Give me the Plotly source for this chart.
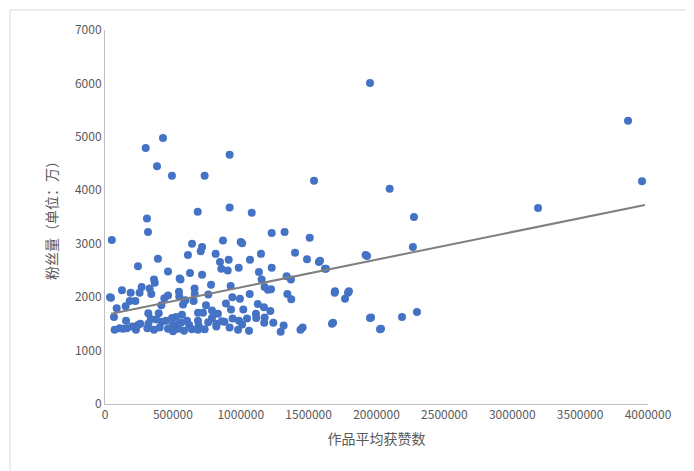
import plotly.graph_objects as go

likes = [50000,37000,300000,427000,383000,493000,918000,734000,1540000,2097000,1952000,3853000,3956000,3190000,2276000,2268000,2298000,2188000,2026000,1952000,1920000,1790000,1694000,1672000,1620000,1576000,
309000,317000,683000,918000,1081000,1228000,1323000,1508000,1930000,390000,243000,641000,715000,705000,611000,815000,869000,1000000,1010000,847000,911000,857000,904000,985000,1068000,1149000,1228000,1134000,1154000,1338000,1370000,1400000,1488000,1584000,1628000,1692000,1797000,1768000,1680000,1960000,2033000,
464000,550000,556000,626000,715000,781000,926000,1066000,1200000,1223000,1176000,1343000,1372000,361000,367000,270000,329000,125000,189000,255000,341000,44000,86000,66000,152000,182000,224000,437000,464000,545000,547000,660000,661000,761000,592000,653000,415000,575000,744000,891000,938000,994000,1125000,1171000,1218000,
319000,396000,523000,567000,685000,722000,788000,832000,928000,1019000,1112000,1176000,155000,243000,337000,378000,494000,528000,604000,685000,788000,940000,987000,1046000,1114000,1173000,1240000,1316000,1456000,1440000,1294000,
71000,108000,133000,162000,228000,312000,361000,403000,464000,501000,538000,582000,640000,685000,734000,820000,918000,980000,1061000,
320000,420000,500000,560000,690000,760000,820000,880000,1010000,200000,260000,450000,620000,860000]
fans = [3070,2000,4790,4980,4450,4270,4665,4270,4180,4030,6010,5300,4170,3670,3500,2940,1720,1630,1400,1610,2790,2080,2110,1500,2530,2660,
3470,3220,3600,3680,3580,3200,3220,3110,2770,2720,2580,3000,2940,2860,2790,2810,3060,3030,3010,2660,2700,2530,2500,2550,2700,2810,2550,2470,2330,2390,2330,2830,2710,2680,2530,2080,2110,1970,1520,1620,1410,
2480,2350,2330,2450,2420,2230,2210,2060,2140,2150,2190,2060,1960,2330,2270,2190,2160,2130,2080,2080,2060,1990,1790,1630,1830,1930,1930,1980,2030,2100,2010,2160,2060,2050,1940,1930,1850,1860,1850,1880,2000,1970,1870,1810,1740,
1700,1700,1630,1670,1710,1710,1750,1690,1770,1770,1690,1620,1560,1480,1590,1580,1610,1480,1560,1560,1610,1600,1560,1600,1610,1520,1520,1470,1430,1390,1350,
1390,1420,1410,1420,1390,1420,1390,1430,1410,1360,1410,1370,1400,1390,1400,1450,1430,1390,1370,
1500,1540,1480,1520,1470,1530,1500,1540,1490,1450,1500,1560,1480,1550]
trend_x = [46000, 3977000]
trend_y = [1690, 3725]

fig = go.Figure()
fig.add_trace(go.Scatter(x=likes, y=fans, mode="markers",
    marker=dict(color="#4472C4", size=8), showlegend=False, cliponaxis=False))
fig.add_trace(go.Scatter(x=trend_x, y=trend_y, mode="lines",
    line=dict(color="#7F7F7F", width=2), showlegend=False))
fig.update_layout(width=694, height=471, paper_bgcolor="white", plot_bgcolor="white",
    margin=dict(l=97, r=54, t=22, b=75),
    font=dict(family="Noto Sans CJK SC", size=12, color="#595959"),
    shapes=[dict(type="rect", xref="paper", yref="paper",
        x0=-95/543, x1=1+52/543, y0=-73/374, y1=1+20/374,
        line=dict(color="#D9D9D9", width=1))])
fig.update_xaxes(range=[0, 4000000], dtick=500000, showgrid=False, zeroline=False, automargin=False,
    showline=True, linecolor="#BFBFBF", ticks="", tickformat="d",
    title=dict(text="作品平均获赞数", font=dict(size=14), standoff=12))
fig.update_yaxes(range=[0, 7000], dtick=1000, showgrid=False, zeroline=False, automargin=False,
    showline=True, linecolor="#BFBFBF", ticks="", tickformat="d",
    title=dict(text="粉丝量（单位：万）", font=dict(size=14), standoff=14))
fig.write_html("out.html")
